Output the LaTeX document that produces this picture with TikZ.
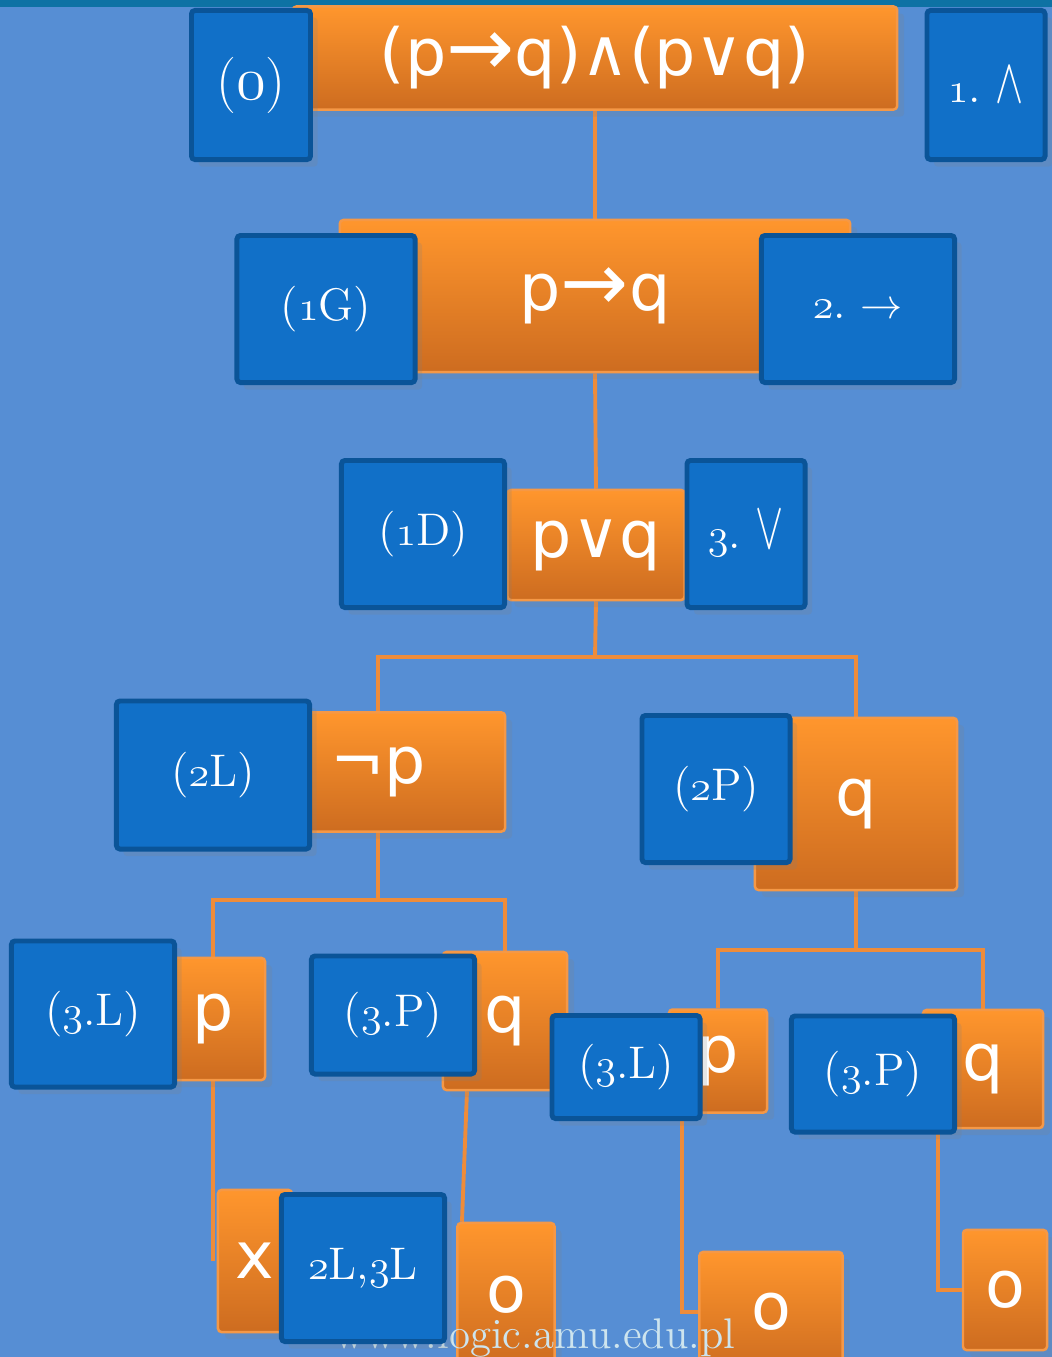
\documentclass[tikz,border=0pt]{standalone}
\usepackage{fontspec}
\usepackage{graphicx}
\usetikzlibrary{positioning,backgrounds,shadows}

\newfontfamily\formfont{DejaVu Sans}
% old style figures come from the math italic font
\newcommand\oldfig[1]{$\mathnormal{#1}$}

\definecolor{skyblue}{RGB}{86,142,212}
\definecolor{stripteal}{RGB}{14,114,164}
\definecolor{ortop}{RGB}{255,150,45}
\definecolor{orbot}{RGB}{205,108,32}
\definecolor{oredge}{RGB}{245,152,70}
\definecolor{tagfill}{RGB}{17,112,200}
\definecolor{tagedge}{RGB}{10,84,152}
\definecolor{branchcol}{RGB}{238,140,58}
\definecolor{wmark}{RGB}{205,228,238}

\tikzset{
  formbox/.style={rectangle, rounded corners=1pt, draw=oredge, line width=0.7pt,
    top color=ortop, bottom color=orbot, text=white, inner sep=0pt,
    font=\formfont\fontsize{18.5}{22}\selectfont,
    drop shadow={opacity=0.2, shadow xshift=2pt, shadow yshift=-2pt}},
  rulebox/.style={rectangle, rounded corners=1pt, draw=tagedge, line width=1.4pt,
    fill=tagfill, text=white, inner sep=0pt,
    font=\fontsize{13}{15}\selectfont,
    drop shadow={opacity=0.2, shadow xshift=2pt, shadow yshift=-2pt}},
  branch/.style={draw=branchcol, line width=1.1pt},
}

\begin{document}
\begin{tikzpicture}[x=0.01cm, y=-0.01cm]
  \useasboundingbox (0,0) rectangle (1052,1357);

  % formulas of the tree
  \node[formbox, minimum width=6.04cm, minimum height=1.03cm] (f0) at (595,58) {(p\scalebox{1.25}{→}q)∧(p∨q)};
  \node[formbox, minimum width=5.10cm, minimum height=1.52cm] (f1) at (595,296) {p\scalebox{1.25}{→}q};
  \node[formbox, minimum width=1.77cm, minimum height=1.10cm] (f2) at (596,545) {p∨q};
  \node[formbox, minimum width=2.54cm, minimum height=1.19cm] (f3) at (378,772) {¬p};
  \node[formbox, minimum width=2.02cm, minimum height=1.72cm] (f4) at (856,804) {q};
  \node[formbox, minimum width=1.04cm, minimum height=1.22cm] (f5) at (213,1019) {p};
  \node[formbox, minimum width=1.24cm, minimum height=1.38cm] (f6) at (505,1021) {q};
  \node[formbox, minimum width=0.98cm, minimum height=1.03cm] (f7) at (718,1061) {p};
  \node[formbox, minimum width=1.20cm, minimum height=1.18cm] (f8) at (983,1069) {q};
  \node[formbox, minimum width=0.74cm, minimum height=1.42cm] (f9) at (255,1261) {x};
  \node[formbox, minimum width=0.97cm, minimum height=1.44cm] (f10) at (506,1295) {o};
  \node[formbox, minimum width=1.43cm, minimum height=1.20cm] (f11) at (771,1312) {o};
  \node[formbox, minimum width=0.84cm, minimum height=1.20cm] (f12) at (1005,1290) {o};

  \node[font=\fontsize{12.2}{14}\selectfont, text=wmark, anchor=base] (site) at (535,1348) {www.logic.amu.edu.pl};

  % rule labels
  \node[rulebox, minimum width=1.19cm, minimum height=1.49cm, font=\fontsize{16}{18}\selectfont] (t0) at (251,85) {(\oldfig{0})};
  \node[rulebox, minimum width=1.18cm, minimum height=1.49cm] (t0r) at (986,85) {\oldfig{1}.~\scalebox{1}[1.5]{$\wedge$}};
  \node[rulebox, minimum width=1.78cm, minimum height=1.47cm] (t1) at (326,309) {(\oldfig{1}G)};
  \node[rulebox, minimum width=1.93cm, minimum height=1.47cm] (t1r) at (858,309) {\oldfig{2}.~$\rightarrow$};
  \node[rulebox, minimum width=1.63cm, minimum height=1.47cm] (t2) at (423,534) {(\oldfig{1}D)};
  \node[rulebox, minimum width=1.18cm, minimum height=1.47cm] (t2r) at (746,534) {\oldfig{3}.~\scalebox{1}[1.6]{$\vee$}};
  \node[rulebox, minimum width=1.93cm, minimum height=1.48cm] (t3) at (213,775) {(\oldfig{2}L)};
  \node[rulebox, minimum width=1.48cm, minimum height=1.47cm] (t4) at (716,789) {(\oldfig{2}P)};
  \node[rulebox, minimum width=1.63cm, minimum height=1.46cm] (t5) at (93,1014) {(\oldfig{3}.L)};
  \node[rulebox, minimum width=1.63cm, minimum height=1.18cm] (t6) at (393,1015) {(\oldfig{3}.P)};
  \node[rulebox, minimum width=1.48cm, minimum height=1.03cm] (t7) at (626,1067) {(\oldfig{3}.L)};
  \node[rulebox, minimum width=1.63cm, minimum height=1.16cm] (t8) at (873,1074) {(\oldfig{3}.P)};
  \node[rulebox, minimum width=1.63cm, minimum height=1.47cm] (t9) at (363,1268) {\oldfig{2}L,\oldfig{3}L};

  \begin{scope}[on background layer]
    \fill[skyblue] (0,0) rectangle (1052,1357);
    \fill[stripteal] (0,0) rectangle (1052,7);

    % branches
    \coordinate (j2) at (595,657);
    \coordinate (j3) at (378,900);
    \coordinate (j4) at (856,950);
    \draw[branch] (f0.south) -- (f1.north);
    \draw[branch] (f1.south) -- (f2.north);
    \draw[branch] (f2.south) -- (j2);
    \draw[branch] (f3.north) |- (j2) -| (f4.north);
    \draw[branch] (f3.south) -- (j3);
    \draw[branch] (f5.north) |- (j3) -| (f6.north);
    \draw[branch] (f4.south) -- (j4);
    \draw[branch] (f7.north) |- (j4) -| (f8.north);
    \draw[branch] (f5.south) -- (f5.south |- f9.west);
    \draw[branch] ([xshift=-0.38cm]f6.south) -- ([xshift=-0.44cm]f10.north);
    \draw[branch] ([xshift=-0.36cm]f7.south) |- (f11.west);
    \draw[branch] ([xshift=-0.45cm]f8.south) |- (f12.west);
  \end{scope}
\end{tikzpicture}
\end{document}
